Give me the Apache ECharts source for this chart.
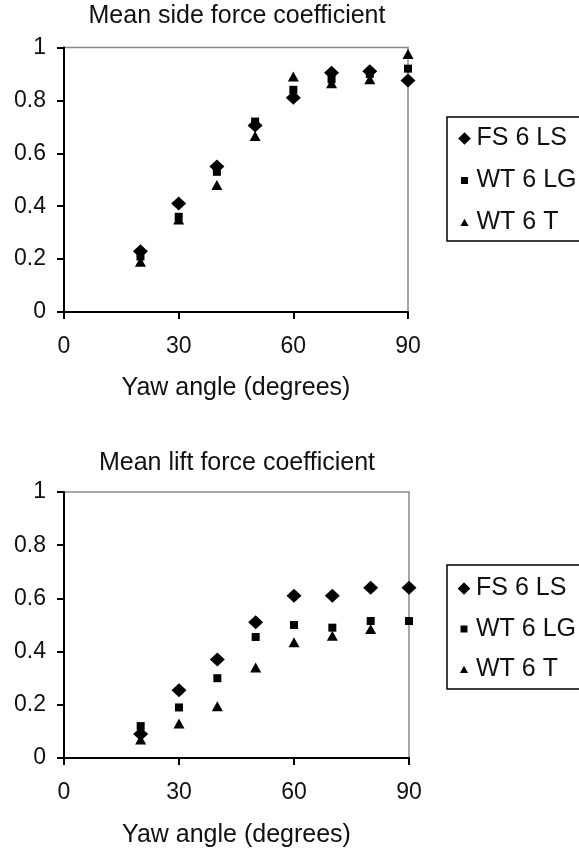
<!DOCTYPE html>
<html>
<head>
<meta charset="utf-8">
<script src="https://cdn.jsdelivr.net/npm/echarts@6/dist/echarts.min.js"></script>
<style>
html,body{margin:0;padding:0;background:#fff;}
#c{width:579px;height:853px;}
</style>
</head>
<body>
<div id="c"></div>
<script>
// ---- data ----
var yaw = [20, 30, 40, 50, 60, 70, 80, 90];
var xTicks = [0, 30, 60, 90];
var yTicks = [0, 0.2, 0.4, 0.6, 0.8, 1];
var seriesNames = ['FS 6 LS', 'WT 6 LG', 'WT 6 T'];
var titles = ['Mean side force coefficient', 'Mean lift force coefficient'];
var xName = 'Yaw angle (degrees)';

var sideFS = [0.23, 0.41, 0.55, 0.705, 0.81, 0.905, 0.91, 0.875];
var sideLG = [0.21, 0.36, 0.53, 0.72, 0.84, 0.88, 0.90, 0.92];
var sideT  = [0.19, 0.35, 0.48, 0.665, 0.89, 0.865, 0.88, 0.975];

var liftFS = [0.09, 0.255, 0.37, 0.51, 0.61, 0.61, 0.64, 0.64];
var liftLG = [0.12, 0.19, 0.30, 0.455, 0.50, 0.49, 0.515, 0.515];
var liftT  = [0.07, 0.13, 0.195, 0.34, 0.435, 0.46, 0.485, null];

function pairs(xs, ys) {
  var out = [];
  for (var i = 0; i < xs.length; i++) {
    if (ys[i] !== null && ys[i] !== undefined) out.push([xs[i], ys[i]]);
  }
  return out;
}

var FONT = '"Liberation Sans", Arial, Helvetica, sans-serif';
var TXT = '#111';

// legend icons: paths inside a 20x20 frame so visible sizes differ
var iconDiamond = 'path://M0,0L0,0M20,20L20,20M10,1L19,10L10,19L1,10Z';
var iconSquare = 'path://M0,0L0,0M20,20L20,20M5,5L15,5L15,15L5,15Z';
var iconTriangle = 'path://M0,0L0,0M20,20L20,20M10,4.5L15.8,15L4.2,15Z';

function xAxisOpt(gi) {
  return {
    type: 'value', gridIndex: gi, min: 0, max: 90, interval: 30,
    name: xName, nameLocation: 'middle', nameGap: gi === 0 ? 64 : 65,
    nameTextStyle: {fontFamily: FONT, fontSize: 25, color: TXT, lineHeight: 25},
    axisLine: {show: true, onZero: false, lineStyle: {color: '#000', width: 2}},
    axisTick: {show: true, length: 7, inside: false, lineStyle: {color: '#000', width: 2}},
    axisLabel: {fontFamily: FONT, fontSize: 23, color: TXT, margin: 23, lineHeight: 23,
      formatter: function (v) { return xTicks.indexOf(v) >= 0 ? String(v) : ''; }},
    splitLine: {show: false}
  };
}
function yAxisOpt(gi) {
  return {
    type: 'value', gridIndex: gi, min: 0, max: 1, interval: 0.2,
    axisLine: {show: true, onZero: false, lineStyle: {color: '#000', width: 2}},
    axisTick: {show: true, length: 7, inside: false, lineStyle: {color: '#000', width: 2}},
    axisLabel: {fontFamily: FONT, fontSize: 23, color: TXT, margin: 18,
      formatter: function (v) { return String(Math.round(v * 10) / 10); }},
    splitLine: {show: false}
  };
}
function sc(name, gi, data, symbol, size) {
  return {
    type: 'scatter', name: name, xAxisIndex: gi, yAxisIndex: gi,
    data: data, symbol: symbol, symbolSize: size,
    itemStyle: {color: '#000', opacity: 1},
    emphasis: {disabled: true}, animation: false, clip: false
  };
}
function legendOpt(top, padding, gap) {
  return {
    orient: 'vertical', left: 447, top: top,
    padding: padding, itemGap: gap, itemWidth: 14, itemHeight: 14,
    borderColor: '#000', borderWidth: 1.5,
    selectedMode: false,
    textStyle: {fontFamily: FONT, fontSize: 25, color: TXT, lineHeight: 24},
    data: [
      {name: seriesNames[0], icon: iconDiamond},
      {name: seriesNames[1], icon: iconSquare},
      {name: seriesNames[2], icon: iconTriangle}
    ]
  };
}

var chart = echarts.init(document.getElementById('c'), null, {renderer: 'canvas'});
chart.setOption({
  backgroundColor: '#fff',
  animation: false,
  title: [
    {text: titles[0], left: 237, top: 3.5, textAlign: 'center', padding: 0,
     textStyle: {fontFamily: FONT, fontSize: 25, fontWeight: 'normal', color: TXT, lineHeight: 25}},
    {text: titles[1], left: 237, top: 451, textAlign: 'center', padding: 0,
     textStyle: {fontFamily: FONT, fontSize: 25, fontWeight: 'normal', color: TXT, lineHeight: 25}}
  ],
  grid: [
    {left: 64, right: 171, top: 47.5, bottom: 541, show: true, borderColor: '#8a8a8a', borderWidth: 1.5, backgroundColor: 'transparent'},
    {left: 64, right: 170, top: 492, bottom: 95, show: true, borderColor: '#8a8a8a', borderWidth: 1.5, backgroundColor: 'transparent'}
  ],
  legend: [
    legendOpt(117, [9, 30, 6, 10.5], 17),
    legendOpt(565, [11, 30, 7, 10], 15.5)
  ],
  xAxis: [xAxisOpt(0), xAxisOpt(1)],
  yAxis: [yAxisOpt(0), yAxisOpt(1)],
  series: [
    sc(seriesNames[2], 0, pairs(yaw, sideT), 'triangle', [11, 10]),
    sc(seriesNames[1], 0, pairs(yaw, sideLG), 'rect', [8, 8]),
    sc(seriesNames[0], 0, pairs(yaw, sideFS), 'diamond', [15, 14]),
    sc(seriesNames[2], 1, pairs(yaw, liftT), 'triangle', [11, 10]),
    sc(seriesNames[1], 1, pairs(yaw, liftLG), 'rect', [8, 8]),
    sc(seriesNames[0], 1, pairs(yaw, liftFS), 'diamond', [15, 14])
  ]
});
</script>
</body>
</html>
